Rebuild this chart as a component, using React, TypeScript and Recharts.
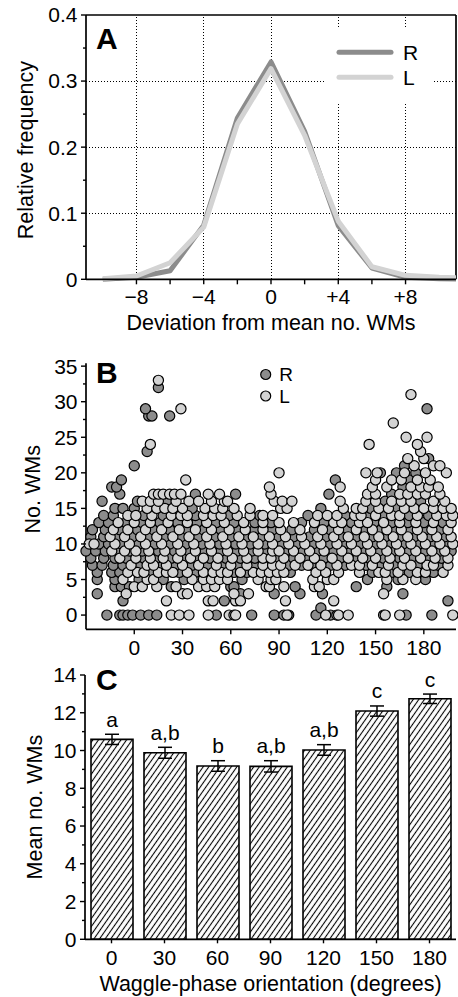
import {
  Bar,
  BarChart,
  ErrorBar,
  LabelList,
  Legend,
  Line,
  LineChart,
  ReferenceLine,
  Scatter,
  ScatterChart,
  XAxis,
  YAxis,
} from 'recharts';

const FONT = '"Liberation Sans", Arial, Helvetica, sans-serif';
const INK = '#000';
const DARK = '#8c8c8c';
const LIGHT = '#d3d3d3';
const W = 458;
const TICK_FONT = 21;
const TITLE_FONT = 21.5;

// ---- Panel A: relative frequency of deviation from mean no. WMs ----
const DEV_BINS = [-10, -8, -6, -4, -2, 0, 2, 4, 6, 8, 10, 12];
const FREQ_R = [0.0, 0.003, 0.013, 0.082, 0.244, 0.329, 0.224, 0.081, 0.017, 0.003, 0.001, 0.0];
const FREQ_L = [0.001, 0.005, 0.025, 0.079, 0.235, 0.319, 0.218, 0.088, 0.019, 0.006, 0.003, 0.002];
const DEV_TICKS = [-8, -6, -4, -2, 0, 2, 4, 6, 8];
const DEV_LABELS: Record<string, string> = { '-8': '−8', '-4': '−4', '0': '0', '4': '+4', '8': '+8' };
const FREQ_TICKS = [0, 0.05, 0.1, 0.15, 0.2, 0.25, 0.3, 0.35, 0.4];
const FREQ_LABELS: Record<string, string> = { '0': '0', '0.1': '0.1', '0.2': '0.2', '0.3': '0.3', '0.4': '0.4' };
const DEV_GRID = [-8, -4, 0, 4, 8];
const FREQ_GRID = [0.1, 0.2, 0.3];

// ---- Panel B: no. WMs per dance vs waggle-phase orientation (y level -> orientations) ----
const R_LEVELS: [number, number[]][] = [
  [0, [-17, -9, -7, -4, -1, 4, 9, 14, 51, 73, 87, 93, 96, 113, 122, 169, 185]],
  [1, [116]],
  [2, [-7, 56, 195]],
  [3, [-23, 66, 87, 103, 117, 167]],
  [4, [-12, -8, -3, 23, 60, 62, 100, 138, 157]],
  [5, [-23, -12, 3, 18, 31, 67, 145, 164, 181]],
  [6, [-23, -14, -9, 10, 28, 38, 62, 70, 97, 148, 160, 171, 186]],
  [7, [-26, -20, -13, -7, 4, 16, 26, 36, 46, 56, 65, 75, 96, 104, 110, 122, 131, 144, 154, 162, 176, 189]],
  [8, [-27, -19, -12, -5, 6, 14, 23, 31, 39, 47, 57, 66, 75, 88, 99, 107, 118, 128, 139, 146, 155, 165, 172, 183, 191]],
  [9, [-30, -24, -18, -10, -3, 5, 15, 25, 34, 44, 54, 64, 73, 82, 94, 105, 114, 124, 134, 143, 152, 161, 170, 181, 190, 197]],
  [10, [-22, -16, -8, 3, 13, 22, 32, 42, 53, 63, 72, 81, 92, 101, 111, 121, 131, 140, 150, 158, 167, 177, 186, 195]],
  [11, [-27, -19, -11, -1, 9, 19, 29, 40, 50, 60, 70, 79, 89, 99, 109, 119, 129, 138, 148, 156, 165, 174, 184, 193]],
  [12, [-26, -18, -9, 2, 12, 22, 33, 43, 54, 64, 75, 86, 98, 112, 122, 133, 144, 153, 162, 171, 181, 190]],
  [13, [-22, -16, -5, 5, 16, 27, 39, 51, 62, 75, 85, 104, 118, 135, 149, 160, 170, 180, 192]],
  [14, [-19, -13, 6, 18, 38, 59, 78, 108, 131, 146, 155, 171, 183]],
  [15, [-12, -7, 0, 36, 116, 147, 163]],
  [16, [-20, 2, 20, 156, 178]],
  [17, [-9, 38, 63, 121, 160]],
  [18, [-14, -11, 167]],
  [19, [-8, 125, 171]],
  [20, [153, 163, 175]],
  [21, [0, 168]],
  [22, [183]],
  [23, [8]],
  [28, [9, 11, 22]],
  [29, [7, 182]],
  [32, [15]],
];
const L_LEVELS: [number, number[]][] = [
  [0, [23, 28, 34, 46, 59, 62, 63, 95, 119, 126, 127, 133, 155, 156, 165, 198]],
  [2, [20, 46, 49, 63, 66, 94, 124]],
  [3, [-5, 30, 33, 62, 71, 155]],
  [4, [0, 5, 14, 26, 40, 45, 50, 82, 84, 93, 112, 115]],
  [5, [-7, 8, 12, 36, 43, 48, 53, 58, 77, 85, 88, 111, 120, 124, 157, 167, 175]],
  [6, [-4, 2, 6, 15, 20, 24, 33, 43, 49, 54, 58, 66, 74, 79, 84, 89, 93, 113, 119, 127, 140, 152, 156, 164, 176, 181, 192]],
  [7, [-2, 8, 12, 20, 30, 40, 51, 60, 70, 80, 86, 91, 100, 108, 116, 126, 135, 140, 148, 158, 167, 172, 182, 186, 195]],
  [8, [-9, 1, 10, 18, 27, 35, 43, 52, 61, 70, 80, 85, 93, 103, 112, 123, 133, 142, 150, 159, 168, 178, 187, 195]],
  [9, [-14, -6, 1, 9, 19, 29, 38, 48, 58, 68, 77, 86, 90, 99, 109, 118, 129, 138, 147, 157, 165, 175, 185, 193]],
  [10, [-28, -25, -12, -3, 7, 17, 27, 37, 47, 57, 67, 77, 86, 96, 106, 116, 126, 135, 145, 154, 163, 172, 181, 190, 198]],
  [11, [-15, -6, 4, 14, 24, 34, 45, 55, 65, 74, 84, 94, 104, 114, 124, 133, 143, 152, 161, 170, 179, 188, 197]],
  [12, [-13, -4, 7, 17, 28, 38, 48, 59, 69, 80, 91, 103, 117, 127, 138, 148, 157, 166, 176, 185, 195]],
  [13, [-10, 0, 10, 21, 33, 45, 56, 68, 80, 90, 99, 112, 124, 129, 140, 145, 155, 165, 175, 186, 197]],
  [14, [-4, 1, 11, 23, 29, 33, 43, 49, 54, 64, 72, 80, 86, 114, 120, 126, 137, 141, 150, 160, 165, 176, 188, 194, 198]],
  [15, [8, 14, 19, 24, 30, 44, 50, 55, 62, 72, 91, 95, 130, 138, 142, 152, 158, 168, 174, 180, 186, 192, 197]],
  [16, [5, 10, 15, 26, 34, 40, 48, 56, 58, 87, 92, 98, 128, 144, 150, 160, 166, 172, 186, 193]],
  [17, [12, 15, 18, 22, 25, 29, 46, 53, 85, 145, 150, 165, 170, 176, 181, 190]],
  [18, [84, 128, 148, 157, 172, 178, 183, 189]],
  [19, [32, 150, 160, 166, 176, 184]],
  [20, [90, 144, 151, 168, 181, 194]],
  [21, [174, 186, 190]],
  [22, [170, 180]],
  [23, [178]],
  [24, [10, 146, 176]],
  [25, [169, 182]],
  [27, [161]],
  [29, [29]],
  [31, [172]],
  [33, [15]],
];
const DEG_TICKS = [0, 30, 60, 90, 120, 150, 180];
const WM_TICKS = [0, 2.5, 5, 7.5, 10, 12.5, 15, 17.5, 20, 22.5, 25, 27.5, 30, 32.5, 35];
const WM_LABELS: Record<string, string> = {
  '0': '0', '5': '5', '10': '10', '15': '15', '20': '20', '25': '25', '30': '30', '35': '35',
};

// ---- Panel C: mean no. WMs per orientation ----
const ORIENTATIONS = ['0', '30', '60', '90', '120', '150', '180'];
const MEAN_WMS = [10.59, 9.88, 9.18, 9.16, 10.03, 12.09, 12.74];
const SEM_WMS = [0.27, 0.29, 0.28, 0.3, 0.28, 0.27, 0.25];
const GROUPS = ['a', 'a,b', 'b', 'a,b', 'a,b', 'c', 'c'];
const MEAN_TICKS = [0, 1, 2, 3, 4, 5, 6, 7, 8, 9, 10, 11, 12, 13, 14];
const MEAN_LABELS: Record<string, string> = {
  '0': '0', '2': '2', '4': '4', '6': '6', '8': '8', '10': '10', '12': '12', '14': '14',
};

const freqRows = DEV_BINS.map((x, i) => ({ x, r: FREQ_R[i], l: FREQ_L[i] }));
const toPoints = (levels: [number, number[]][]) =>
  levels.flatMap(([y, xs]) => xs.map((x) => ({ x, y })));
const rPoints = toPoints(R_LEVELS);
const lPoints = toPoints(L_LEVELS);
const meanRows = ORIENTATIONS.map((deg, i) => ({ deg, mean: MEAN_WMS[i], sem: SEM_WMS[i], group: GROUPS[i] }));

type TickArgs = { x?: number; y?: number; payload?: { value: number | string } };

const leftTick = (labels: Record<string, string>) =>
  ({ x = 0, y = 0, payload }: TickArgs) => {
    const text = labels[String(payload?.value)];
    return (
      <g>
        <line x1={x - (text ? 5 : 3)} x2={x} y1={y} y2={y} stroke={INK} strokeWidth={1.4} />
        {text && (
          <text x={x - 8.5} y={y} dy={7.4} textAnchor="end" fontSize={TICK_FONT} fill={INK}>
            {text}
          </text>
        )}
      </g>
    );
  };

const bottomTick = (labels: Record<string, string> | null, len: number, base: number) =>
  ({ x = 0, y = 0, payload }: TickArgs) => {
    const text = labels ? labels[String(payload?.value)] : String(payload?.value ?? '');
    return (
      <g>
        <line x1={x} x2={x} y1={y} y2={y + len} stroke={INK} strokeWidth={1.4} />
        {text && (
          <text x={x} y={y + base} textAnchor="middle" fontSize={TICK_FONT} fill={INK}>
            {text}
          </text>
        )}
      </g>
    );
  };

// eslint-disable-next-line @typescript-eslint/no-explicit-any
const xTitle = (text: string, baseline: number) => (props: any) => {
  const vb = props.viewBox ?? {};
  return (
    <text x={vb.x + vb.width / 2} y={vb.y + baseline} textAnchor="middle" fontSize={TITLE_FONT} fill={INK}>
      {text}
    </text>
  );
};

// eslint-disable-next-line @typescript-eslint/no-explicit-any
const yTitle = (text: string, baselineX: number, shift = 0) => (props: any) => {
  const vb = props.viewBox ?? {};
  const cy = vb.y + vb.height / 2 + shift;
  return (
    <text
      x={baselineX}
      y={cy}
      transform={`rotate(-90 ${baselineX} ${cy})`}
      textAnchor="middle"
      fontSize={TITLE_FONT}
      fill={INK}
    >
      {text}
    </text>
  );
};

type KeyItem = { value?: string; color?: string };
const KEY_ORDER = ['R', 'L'];
const sortKey = (payload?: KeyItem[]) =>
  [...(payload ?? [])].sort((a, b) => KEY_ORDER.indexOf(a.value ?? '') - KEY_ORDER.indexOf(b.value ?? ''));

function LineKey({ payload }: { payload?: KeyItem[] }) {
  return (
    <svg width={108} height={74} style={{ display: 'block', background: '#fff' }}>
      {sortKey(payload).map((e, i) => (
        <g key={e.value}>
          <line x1={14} x2={66} y1={23.3 + 25 * i} y2={23.3 + 25 * i} stroke={e.color} strokeWidth={5} strokeLinecap="round" />
          <text x={78} y={30.8 + 25 * i} fontSize={TICK_FONT} fill={INK}>
            {e.value}
          </text>
        </g>
      ))}
    </svg>
  );
}

function DotKey({ payload }: { payload?: KeyItem[] }) {
  return (
    <svg width={40} height={50} style={{ display: 'block' }}>
      {sortKey(payload).map((e, i) => (
        <g key={e.value}>
          <circle cx={10.7} cy={9.5 + 21.5 * i} r={5} fill={e.value === 'R' ? DARK : LIGHT} stroke={INK} strokeWidth={1.2} />
          <text x={24.3} y={16.3 + 21.5 * i} fontSize={19} fill={INK}>
            {e.value}
          </text>
        </g>
      ))}
    </svg>
  );
}

// eslint-disable-next-line @typescript-eslint/no-explicit-any
const dot = (fill: string) => (p: any) => (
  <circle cx={p.cx} cy={p.cy} r={5.1} fill={fill} stroke={INK} strokeWidth={1.2} />
);

// eslint-disable-next-line @typescript-eslint/no-explicit-any
const groupLabel = (props: any) => {
  const vb = props.viewBox ?? props;
  const i = props.index ?? 0;
  const pxPerUnit = Math.abs(vb.height) / MEAN_WMS[i];
  const errTop = vb.y - SEM_WMS[i] * pxPerUnit;
  return (
    <text x={vb.x + vb.width / 2} y={errTop - 7.5} textAnchor="middle" fontSize={TICK_FONT} fill={INK}>
      {props.value}
    </text>
  );
};

const axisLine = { stroke: INK, strokeWidth: 1.7 };

export default function App() {
  return (
    <div style={{ position: 'absolute', left: 0, top: 0, width: W, height: 997, fontFamily: FONT, background: '#fff' }}>
      <div style={{ position: 'absolute', left: 0, top: 0 }}>
        <LineChart width={W} height={340} data={freqRows} margin={{ top: 15, right: 2, left: 0, bottom: 0 }}>
          <XAxis
            type="number"
            dataKey="x"
            domain={[-11, 11]}
            allowDataOverflow
            ticks={DEV_TICKS}
            interval={0}
            height={60.7}
            tickSize={0}
            tickMargin={0}
            tickLine={false}
            axisLine={axisLine}
            tick={bottomTick(DEV_LABELS, 5, 24.8)}
            label={{ content: xTitle('Deviation from mean no. WMs', 50.7) }}
          />
          <YAxis
            type="number"
            domain={[0, 0.4]}
            ticks={FREQ_TICKS}
            interval={0}
            width={86}
            tickSize={0}
            tickMargin={0}
            tickLine={false}
            axisLine={axisLine}
            tick={leftTick(FREQ_LABELS)}
            label={{ content: yTitle('Relative frequency', 33.5, 3) }}
          />
          {DEV_GRID.map((v) => (
            <ReferenceLine key={`v${v}`} x={v} stroke={INK} strokeWidth={1} strokeDasharray="1 2" shapeRendering="crispEdges" />
          ))}
          {FREQ_GRID.map((v) => (
            <ReferenceLine key={`h${v}`} y={v} stroke={INK} strokeWidth={1} strokeDasharray="1 2" shapeRendering="crispEdges" />
          ))}
          <ReferenceLine y={0.4} stroke={INK} strokeWidth={1.7} />
          <ReferenceLine x={11} stroke={INK} strokeWidth={1.7} />
          <Line type="linear" dataKey="r" name="R" stroke={DARK} strokeWidth={5} dot={false} strokeLinejoin="round" isAnimationActive={false} />
          <Line type="linear" dataKey="l" name="L" stroke={LIGHT} strokeWidth={5} dot={false} strokeLinejoin="round" isAnimationActive={false} />
          <Legend
            layout="horizontal"
            verticalAlign="middle"
            align="center"
            wrapperStyle={{ left: 325, top: 29, width: 108, height: 74 }}
            content={(p) => <LineKey payload={p.payload as KeyItem[]} />}
          />
        </LineChart>
      </div>

      <div style={{ position: 'absolute', left: 0, top: 340 }}>
        <ScatterChart width={W} height={320} margin={{ top: 23.3, right: 2, left: 0, bottom: 0 }}>
          <XAxis
            type="number"
            dataKey="x"
            domain={[-30, 200]}
            ticks={DEG_TICKS}
            interval={0}
            height={30.7}
            tickSize={0}
            tickMargin={0}
            tickLine={false}
            axisLine={axisLine}
            tick={bottomTick(null, 5, 25.8)}
          />
          <YAxis
            type="number"
            dataKey="y"
            domain={[-2, 35.4]}
            ticks={WM_TICKS}
            interval={0}
            width={86}
            tickSize={0}
            tickMargin={0}
            tickLine={false}
            axisLine={axisLine}
            tick={leftTick(WM_LABELS)}
            label={{ content: yTitle('No. WMs', 40, -7) }}
          />
          <Scatter name="R" data={rPoints} fill={DARK} shape={dot(DARK)} isAnimationActive={false} />
          <Scatter name="L" data={lPoints} fill={LIGHT} shape={dot(LIGHT)} isAnimationActive={false} />
          <Legend
            layout="horizontal"
            verticalAlign="middle"
            align="center"
            wrapperStyle={{ left: 255, top: 25, width: 40, height: 50 }}
            content={(p) => <DotKey payload={p.payload as KeyItem[]} />}
          />
        </ScatterChart>
      </div>

      <div style={{ position: 'absolute', left: 0, top: 660 }}>
        <BarChart width={W} height={337} data={meanRows} margin={{ top: 15, right: 2, left: 0, bottom: 0 }}>
          <defs>
            <pattern id="hatch" width={4.6} height={10} patternUnits="userSpaceOnUse" patternTransform="rotate(35)">
              <rect width={4.6} height={10} fill="#fff" />
              <line x1={2.3} y1={0} x2={2.3} y2={10} stroke={INK} strokeWidth={1.1} />
            </pattern>
          </defs>
          <XAxis
            dataKey="deg"
            type="category"
            height={57.7}
            tickSize={0}
            tickMargin={0}
            tickLine={false}
            axisLine={axisLine}
            interval={0}
            tick={bottomTick(null, 4, 25.8)}
            label={{ content: xTitle('Waggle-phase orientation (degrees)', 51.7) }}
          />
          <YAxis
            type="number"
            domain={[0, 14]}
            ticks={MEAN_TICKS}
            interval={0}
            width={85}
            tickSize={0}
            tickMargin={0}
            tickLine={false}
            axisLine={axisLine}
            tick={leftTick(MEAN_LABELS)}
            label={{ content: yTitle('Mean no. WMs', 42) }}
          />
          <Bar dataKey="mean" barSize={42} fill="url(#hatch)" stroke={INK} strokeWidth={1.6} isAnimationActive={false}>
            <ErrorBar dataKey="sem" width={7} stroke={INK} strokeWidth={1.5} direction="y" />
            <LabelList dataKey="group" content={groupLabel} />
          </Bar>
        </BarChart>
      </div>

      <svg width={W} height={997} style={{ position: 'absolute', left: 0, top: 0, pointerEvents: 'none' }}>
        <text x={96} y={49} fontSize={30} fontWeight="bold" fill={INK}>A</text>
        <text x={96} y={383} fontSize={30} fontWeight="bold" fill={INK}>B</text>
        <text x={96} y={690} fontSize={30} fontWeight="bold" fill={INK}>C</text>
      </svg>
    </div>
  );
}
